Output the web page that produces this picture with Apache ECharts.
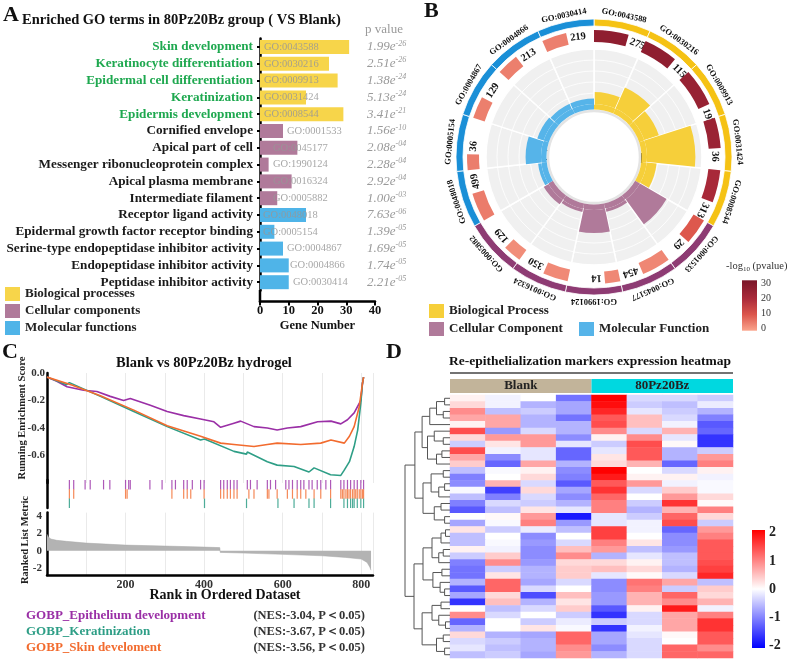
<!DOCTYPE html>
<html>
<head>
<meta charset="utf-8">
<script src="https://cdn.jsdelivr.net/npm/echarts@6/dist/echarts.min.js"></script>
<style>
html, body { margin: 0; padding: 0; background: #fff; }
#main { width: 790px; height: 659px; }
</style>
</head>
<body>
<div id="main"></div>
<script>
var myChart = echarts.init(document.getElementById('main'), null, {renderer: 'canvas'});
var SERIF = '"Liberation Serif", "Times New Roman", serif';

// ---------- A / B : GO terms ----------
var goTerms = ['Skin development', 'Keratinocyte differentiation', 'Epidermal cell differentiation', 'Keratinization',
    'Epidermis development', 'Cornified envelope', 'Apical part of cell', 'Messenger ribonucleoprotein complex',
    'Apical plasma membrane', 'Intermediate filament', 'Receptor ligand activity',
    'Epidermal growth factor receptor binding', 'Serine-type endopeptidase inhibitor activity',
    'Endopeptidase inhibitor activity', 'Peptidase inhibitor activity'];
var goIds = ['GO:0043588', 'GO:0030216', 'GO:0009913', 'GO:0031424', 'GO:0008544', 'GO:0001533', 'GO:0045177',
    'GO:1990124', 'GO:0016324', 'GO:0005882', 'GO:0048018', 'GO:0005154', 'GO:0004867', 'GO:0004866', 'GO:0030414'];
var goGroup = [0, 0, 0, 0, 0, 1, 1, 1, 1, 1, 2, 2, 2, 2, 2];
var geneNumber = [31, 24, 27, 16, 29, 8, 13, 3, 11, 6, 16, 5, 8, 10, 10];
var pMantissa = ['1.99', '2.51', '1.38', '5.13', '3.41', '1.56', '2.08', '2.28', '2.92', '1.00', '7.63', '1.39', '1.69', '1.74', '2.21'];
var pExponent = ['-26', '-26', '-24', '-24', '-21', '-10', '-04', '-04', '-04', '-03', '-06', '-05', '-05', '-05', '-05'];
var groupNamesA = ['Biological processes', 'Cellular components', 'Molecular functions'];
var groupNamesB = ['Biological Process', 'Cellular Component', 'Molecular Function'];

// circular map values
var bgCount = [275, 115, 193, 36, 313, 29, 454, 14, 350, 129, 499, 36, 129, 213, 219];
var negLogP = [25.7, 25.6, 23.9, 23.3, 20.5, 9.8, 3.7, 3.6, 3.5, 3.0, 5.1, 4.9, 4.8, 4.8, 4.7];
var richFactor = [0.11, 0.21, 0.14, 0.44, 0.09, 0.28, 0.03, 0.21, 0.03, 0.05, 0.03, 0.14, 0.06, 0.05, 0.05];
var bgBarLen = [0.66, 0.65, 0.72, 0.58, 0.62, 0.5, 0.55, 0.29, 0.48, 0.35, 0.55, 0.3, 0.42, 0.42, 0.47];
var pvalTicks = [0, 10, 20, 30];

// ---------- C : GSEA ----------
var gseaNames = ['GOBP_Epithelium development', 'GOBP_Keratinization', 'GOBP_Skin develoment'];
var gseaNes = ['(NES:-3.04, P\uFF1C0.05)', '(NES:-3.67, P\uFF1C0.05)', '(NES:-3.56, P\uFF1C0.05)'];
var esEpithelium = [[0, -0.03], [25, -0.06], [51, -0.10], [93, -0.125], [127, -0.135], [161, -0.17], [195, -0.20],
    [212, -0.185], [263, -0.235], [306, -0.28], [348, -0.31], [391, -0.335], [425, -0.355], [442, -0.395],
    [476, -0.365], [493, -0.35], [527, -0.39], [561, -0.40], [586, -0.415], [612, -0.40], [646, -0.39],
    [689, -0.355], [723, -0.35], [748, -0.37], [765, -0.34], [782, -0.29], [799, -0.20], [803, -0.08], [806, -0.03]];
var esKeratinization = [[0, -0.03], [50, -0.085], [57, -0.07], [136, -0.17], [221, -0.28], [306, -0.39],
    [391, -0.487], [401, -0.48], [476, -0.57], [508, -0.59], [510, -0.575], [561, -0.645], [586, -0.67],
    [629, -0.68], [667, -0.72], [680, -0.69], [722, -0.74], [748, -0.745], [756, -0.71], [770, -0.645],
    [782, -0.535], [791, -0.415], [799, -0.22], [803, -0.08], [806, -0.03]];
var esSkin = [[0, -0.03], [63, -0.087], [136, -0.165], [221, -0.27], [306, -0.383], [391, -0.46], [442, -0.51],
    [476, -0.52], [527, -0.535], [561, -0.52], [586, -0.51], [646, -0.52], [697, -0.51], [723, -0.487],
    [757, -0.51], [770, -0.46], [782, -0.39], [795, -0.245], [803, -0.08], [806, -0.03]];
var hitsEpithelium = [57, 68, 97, 110, 144, 160, 200, 208, 212, 262, 293, 318, 327, 348, 357, 370, 391, 400, 442,
    450, 459, 467, 476, 484, 510, 518, 535, 561, 569, 582, 608, 616, 625, 637, 646, 654, 667, 675, 688, 697, 710,
    722, 748, 756, 765, 773, 782, 790, 799, 806];
var hitsKeratinization = [57, 401, 508, 588, 629, 667, 680, 722, 756, 765, 773, 778, 782, 790, 799, 806];
var hitsSkin = [57, 68, 200, 204, 318, 348, 357, 366, 400, 442, 450, 459, 467, 476, 484, 514, 527, 561, 565, 586,
    612, 625, 637, 646, 659, 680, 697, 722, 748, 752, 756, 761, 765, 769, 773, 778, 782, 786, 790, 795, 799, 803, 806];
var rankedMetric = [[0, 1.9], [3, 1.6], [10, 1.35], [25, 1.2], [50, 1.08], [100, 0.88], [200, 0.65], [300, 0.54],
    [400, 0.42], [440, 0.36], [441, -0.19], [500, -0.27], [600, -0.42], [700, -0.58], [760, -0.77], [800, -0.96],
    [815, -1.35], [822, -1.9], [825, -2.25]];

// ---------- D : heatmap ----------
var heatGroups = ['Blank', '80Pz20Bz'];
var heatSamples = ['B1', 'B2', 'B3', 'B4', 'P1', 'P2', 'P3', 'P4'];
var heatRows = [
    [0.1, -0.1, 0, -1.1, 2.0, -0.3, -0.3, -0.4],
    [0.3, -0.1, -0.6, -0.7, 1.9, -0.4, -0.5, -0.15],
    [0.9, -0.5, -0.4, -0.7, 1.7, -0.2, -0.4, -0.6],
    [0.7, 0.7, -0.6, -1.1, 1.3, 0.5, -0.3, -1.0],
    [0.1, 0.7, -0.6, -0.6, 1.4, 0.5, -0.1, -1.3],
    [1.4, -0.8, -0.3, -0.6, 0.9, -0.3, 0.6, -1.2],
    [0.3, 0.8, 0.8, -0.9, 0.1, 0.9, -0.2, -1.6],
    [-0.4, 0.2, 0.8, -0.2, -0.4, 1.4, 0.05, -1.6],
    [1.4, -0.1, -0.2, -1.2, -0.2, 1.3, -0.6, -0.4],
    [0.7, -0.9, -0.2, -1.2, 0.2, 1.3, -0.6, 0.8],
    [0.4, -1.2, 0.7, -0.6, 0.3, 0.6, -1.2, 1.0],
    [-0.5, -0.05, 0.1, -0.9, 2.0, 0, -0.3, 0.1],
    [-1.0, 0, 0.3, -1.0, 1.8, 0.1, 0.1, -0.1],
    [-0.9, 0.6, -0.3, -1.3, 1.3, 0.8, -0.1, -0.05],
    [-0.05, -1.5, 0.3, -0.7, 1.6, -0.3, 0.4, -0.05],
    [-0.5, -1.0, -0.3, -0.9, 1.2, 0, 0.8, 0.3],
    [-1.0, -0.3, -0.4, -0.6, 1.0, -0.4, 1.6, 0.05],
    [-1.3, -0.5, 0.2, -0.2, 1.0, -0.6, 0.6, 1.0],
    [0, 0.05, 0.8, -1.8, -0.2, -0.4, 1.2, 0.3],
    [-0.7, -0.05, 1.0, -0.8, -0.2, -0.1, 1.4, -0.4],
    [0.2, -0.4, -0.15, -0.5, 1.5, -0.1, -1.2, 0.8],
    [-0.5, 0, -0.9, 0, 1.5, 0, -0.9, 1.0],
    [-0.5, -0.05, -0.8, -0.3, 1.0, 0.2, -0.9, 1.3],
    [0.1, -0.1, -0.9, 0.5, 0.8, -0.5, -0.8, 1.3],
    [-0.4, 0.4, -0.9, 0.9, -0.6, -0.2, -0.5, 1.3],
    [-1.0, 0.9, -0.8, 0.3, 0.3, 0.1, -0.5, 1.4],
    [-1.1, -0.4, -0.6, 0.4, 0.5, 0.3, -0.6, 1.5],
    [-1.1, 0.2, -0.6, 0.4, -0.2, 0.05, -0.3, 1.7],
    [-0.6, 1.2, -0.7, -0.3, -0.9, 1.1, 0.7, -0.5],
    [-1.3, 1.2, -0.3, 0, -0.9, 1.0, -0.4, 0.4],
    [-0.7, 0.3, -1.4, 0.5, -0.8, 0.6, 1.2, 0.3],
    [-1.6, 0.5, -0.6, 0.2, -0.8, 0.6, 0.9, 0.6],
    [0, -0.5, -0.3, 0.4, -1.3, 0.1, 1.8, -0.1],
    [0.9, -0.3, 0, -0.4, -1.6, -0.3, 0.7, 1.0],
    [-1.2, 0, -0.4, -0.15, -0.4, -0.3, 0.7, 1.6],
    [-0.6, 0, 0.2, -0.05, -1.6, -0.1, 0.7, 1.6],
    [0.3, -0.6, -0.7, 1.2, -0.7, -0.2, 0.05, 1.3],
    [-0.3, -0.4, -0.6, 1.2, -0.7, -0.3, 0, 1.3],
    [-0.2, -0.5, -0.6, 0.9, -0.9, -0.3, 1.2, 0.9],
    [-0.5, -0.4, -0.7, 0.8, -0.6, -0.3, 1.2, 1.2]
];
// row clustering: [left, right, height]
var dendro = [
    [[[[[0, 1, 0.12], [2, 3, 0.15], 0.3], 4, 0.45], [[5, [6, 7, 0.15], 0.35], [[8, 9, 0.18], 10, 0.3], 0.5], 0.62],
     [[[11, 12, 0.15], [[13, 14, 0.12], 15, 0.25], 0.42], [[16, 17, 0.2], [18, 19, 0.12], 0.35], 0.6], 0.78],
    [[[[[20, 21, 0.1], 22, 0.2], [[23, 24, 0.15], 25, 0.25], 0.4], [[26, 27, 0.18], [28, [29, 30, 0.12], 0.22], 0.38], 0.6],
     [[[31, 32, 0.2], [33, [34, 35, 0.1], 0.25], 0.4], [[36, 37, 0.15], [38, 39, 0.12], 0.3], 0.62], 0.8],
    1.0];
var heatTicks = [-2, -1, 0, 1, 2];

// ---------- colours ----------
var barColorA = ['#F7D54A', '#B07A9A', '#4FB4E8'];
var ringOuter = ['#F5C214', '#8E3B73', '#1A8FD7'];
var ringInner = ['#F6CF3A', '#B07A9A', '#56B4E9'];
var pColors = ['#FAA48C', '#DC564C', '#AA2A3A', '#7A1528'];
var gseaColors = ['#9A2FA6', '#2E9E86', '#F26B2E'];
var goLabelDx = [4, 4, 4, 4, 4, 27, 13, 13, 13, 13, 3, 3, 27, 30, 33];

function barSeriesA(g) {
    return {
        name: groupNamesA[g],
        type: 'bar',
        xAxisIndex: 0, yAxisIndex: 0,
        barWidth: 14,
        barGap: '-100%',
        itemStyle: {color: barColorA[g]},
        label: {
            show: true, align: 'left', verticalAlign: 'middle',
            color: 'rgba(150,150,150,0.85)', fontFamily: SERIF, fontSize: 10.5,
            formatter: function (p) { return goIds[p.dataIndex]; }
        },
        data: geneNumber.map(function (v, i) {
            if (goGroup[i] !== g) return '-';
            return {value: v, label: {position: [goLabelDx[i], '50%']}};
        })
    };
}

// polar helpers for the circular map
function polarHelper(params, api) {
    var cx = params.coordSys.cx, cy = params.coordSys.cy;
    return {
        cx: cx, cy: cy,
        ang: function (a) { var p = api.coord([100, a]); return Math.atan2(p[1] - cy, p[0] - cx); },
        rad: function (r) { var p = api.coord([r, 0]); return Math.sqrt((p[0] - cx) * (p[0] - cx) + (p[1] - cy) * (p[1] - cy)); },
        pt: function (r, a) { return api.coord([r, a]); }
    };
}
function sector(h, r0, r1, a0, a1, style) {
    var s = h.ang(a0), e = h.ang(a1);
    while (e <= s) e += Math.PI * 2;
    return {type: 'sector', shape: {cx: h.cx, cy: h.cy, r0: h.rad(r0), r: h.rad(r1), startAngle: s, endAngle: e, clockwise: true}, style: style};
}
function arcLine(h, r, a0, a1) {
    var s = h.ang(a0), e = h.ang(a1);
    while (e <= s) e += Math.PI * 2;
    return {type: 'arc', shape: {cx: h.cx, cy: h.cy, r: h.rad(r), startAngle: s, endAngle: e, clockwise: true}, style: {stroke: '#ffffff', lineWidth: 0.8, fill: null}};
}
function tangentText(h, r, a, text, font) {
    var p = h.pt(r, a), th = h.ang(a) + Math.PI / 2;
    return {type: 'text', x: p[0], y: p[1], rotation: -th,
        style: {text: text, font: font, fill: '#111', align: 'center', verticalAlign: 'middle', textAlign: 'center', textVerticalAlign: 'middle'}};
}

function renderGoSector(params, api) {
    var h = polarHelper(params, api);
    var rf = api.value(0), i = api.value(1), g = goGroup[i];
    var kids = [];
    if (i === 0) {
        kids.push({type: 'circle', shape: {cx: h.cx, cy: h.cy, r: h.rad(46)}, style: {fill: '#fff', stroke: '#E4E4E4', lineWidth: 2.5}});
    }
    kids.push(sector(h, 53, 108, i, i + 1, {fill: '#F0F0F0', stroke: '#ffffff', lineWidth: 1.5}));
    [64, 75, 86, 97].forEach(function (r) { kids.push(arcLine(h, r, i, i + 1)); });
    kids.push(sector(h, 53, 53 + rf * 110, i, i + 1, {fill: ringInner[g]}));
    kids.push(sector(h, 47.5, 53, i, i + 1, {fill: ringInner[g]}));
    kids.push(sector(h, 131, 138, i, i + 1, {fill: ringOuter[g], stroke: '#ffffff', lineWidth: 0.8}));
    kids.push(tangentText(h, 144.5, i + 0.5, goIds[i], 'bold 8.5px ' + SERIF));
    return {type: 'group', children: kids};
}

function renderBgBar(params, api) {
    var h = polarHelper(params, api);
    var i = api.value(1), f = api.value(3);
    var txt = String(bgCount[i]);
    var w = txt.length * 5.6;
    var off = (w / 2 + 2.5) / 121 * (180 / Math.PI) / 24;
    return {type: 'group', children: [
        sector(h, 115, 127, i, i + f, {fill: api.visual('color')}),
        tangentText(h, 121, i + f + off, txt, 'bold 10.5px ' + SERIF)
    ]};
}

function colorBar(lo, hi, stops) {
    return function (params, api) {
        var p0 = api.coord([0, hi]), p1 = api.coord([1, lo]);
        return {type: 'rect', shape: {x: p0[0], y: p0[1], width: p1[0] - p0[0], height: p1[1] - p0[1]},
            style: {fill: new echarts.graphic.LinearGradient(0, 0, 0, 1, stops)}};
    };
}

// dendrogram segments
var dendroLines = [];
function walk(node) {
    if (typeof node === 'number') return {y: node + 0.5, h: 0};
    var a = walk(node[0]), b = walk(node[1]), hh = node[2];
    dendroLines.push({coords: [[a.h, a.y], [hh, a.y], [hh, b.y], [b.h, b.y]]});
    return {y: (a.y + b.y) / 2, h: hh};
}
walk(dendro);

var heatData = [];
heatRows.forEach(function (row, r) {
    row.forEach(function (v, c) { heatData.push([c, r, v]); });
});

function rug(hits, row) { return hits.map(function (r) { return [r, row]; }); }

var blackLine = {show: true, onZero: false, lineStyle: {color: '#000', width: 2.5}};
var noGrid = {show: false};
var hidden = {show: false};

option = {
    animation: false,
    backgroundColor: '#ffffff',
    textStyle: {fontFamily: SERIF},
    legend: [
        {data: groupNamesA, orient: 'vertical', left: 5, top: 287, padding: 0, itemWidth: 15, itemHeight: 14, itemGap: 3,
            icon: 'rect', selectedMode: false, textStyle: {fontFamily: SERIF, fontWeight: 'bold', fontSize: 13, color: '#222'}},
        {data: [groupNamesB[0], groupNamesB[1]], orient: 'vertical', left: 429, top: 304, padding: 0, itemWidth: 15, itemHeight: 14, itemGap: 4,
            icon: 'rect', selectedMode: false, textStyle: {fontFamily: SERIF, fontWeight: 'bold', fontSize: 13, color: '#222'}},
        {data: [groupNamesB[2]], orient: 'vertical', left: 579, top: 322, padding: 0, itemWidth: 15, itemHeight: 14,
            icon: 'rect', selectedMode: false, textStyle: {fontFamily: SERIF, fontWeight: 'bold', fontSize: 13, color: '#222'}}
    ],
    grid: [
        {left: 260, top: 38.6, width: 115, height: 252, outerBoundsMode: 'none'},   // 0 A
        {left: 47, top: 373, width: 326, height: 110, outerBoundsMode: 'none'},     // 1 C ES
        {left: 47, top: 480, width: 326, height: 28, outerBoundsMode: 'none'},      // 2 C rug
        {left: 47, top: 512.6, width: 326, height: 62.4, outerBoundsMode: 'none'},  // 3 C metric
        {left: 450, top: 379, width: 283, height: 14, outerBoundsMode: 'none'},     // 4 D header
        {left: 450, top: 395, width: 283, height: 263, outerBoundsMode: 'none'},    // 5 D heatmap
        {left: 405, top: 395, width: 45, height: 263, outerBoundsMode: 'none'},     // 6 D dendrogram
        {left: 742, top: 280, width: 15, height: 51, outerBoundsMode: 'none'},      // 7 B colour bar
        {left: 752, top: 530, width: 13, height: 118, outerBoundsMode: 'none'}      // 8 D colour bar
    ],
    xAxis: [
        {gridIndex: 0, type: 'value', min: 0, max: 40, interval: 10, offset: 11,
            axisLine: blackLine, axisTick: {show: true, length: 4, lineStyle: {color: '#000', width: 2}},
            axisLabel: {fontFamily: SERIF, fontWeight: 'bold', fontSize: 12.5, color: '#111', margin: 3},
            splitLine: noGrid, name: 'Gene Number', nameLocation: 'middle', nameGap: 18,
            nameTextStyle: {fontFamily: SERIF, fontWeight: 'bold', fontSize: 12.5, color: '#111'}},
        {gridIndex: 1, type: 'value', min: 0, max: 830, interval: 100, axisLine: hidden, axisTick: hidden, axisLabel: hidden,
            splitLine: {show: true, lineStyle: {color: '#EAEAEA', width: 1}}},
        {gridIndex: 2, type: 'value', min: 0, max: 830, show: false},
        {gridIndex: 3, type: 'value', min: 0, max: 830, interval: 100, axisLine: blackLine, axisTick: hidden,
            axisLabel: {fontFamily: SERIF, fontWeight: 'bold', fontSize: 12, color: '#333', margin: 4,
                formatter: function (v) { return (v > 0 && v % 200 === 0) ? String(v) : ''; }},
            splitLine: {show: true, lineStyle: {color: '#EAEAEA', width: 1}}},
        {gridIndex: 4, type: 'category', data: heatGroups, show: false},
        {gridIndex: 5, type: 'category', data: heatSamples, show: false},
        {gridIndex: 6, type: 'value', min: 0, max: 1, inverse: true, show: false},
        {gridIndex: 7, type: 'value', min: 0, max: 1, show: false},
        {gridIndex: 8, type: 'value', min: 0, max: 1, show: false}
    ],
    yAxis: [
        {gridIndex: 0, type: 'category', data: goTerms, inverse: true, axisLine: blackLine,
            axisTick: {show: true, length: 3, alignWithLabel: true, lineStyle: {color: '#000', width: 2}},
            axisLabel: {interval: 0, fontFamily: SERIF, fontWeight: 'bold', fontSize: 13.2, margin: 7,
                color: function (v, idx) { return idx < 5 ? '#1EA84F' : '#1a1a1a'; }}},
        {gridIndex: 0, type: 'category', data: goTerms, inverse: true, position: 'right',
            axisLine: hidden, axisTick: hidden,
            axisLabel: {interval: 0, margin: -8, align: 'left',
                formatter: function (v, idx) { return '{m|' + pMantissa[idx] + 'e}{s|' + pExponent[idx] + '}'; },
                rich: {
                    m: {fontFamily: SERIF, fontStyle: 'italic', fontSize: 13, color: '#9A9A9A'},
                    s: {fontFamily: SERIF, fontStyle: 'italic', fontSize: 8, color: '#9A9A9A', padding: [0, 0, 7, 0]}
                }}},
        {gridIndex: 1, type: 'value', min: -0.8, max: 0, interval: 0.2, axisLine: blackLine, axisTick: hidden, splitLine: noGrid,
            axisLabel: {fontFamily: SERIF, fontWeight: 'bold', fontSize: 11, color: '#333', margin: 2, showMinLabel: false,
                formatter: function (v) { return v.toFixed(1); }}},
        {gridIndex: 2, type: 'value', min: 0, max: 3, inverse: true, axisLine: blackLine, axisTick: hidden, axisLabel: hidden, splitLine: noGrid},
        {gridIndex: 3, type: 'value', min: -2.8, max: 4.4, splitNumber: 4, axisLine: blackLine, axisTick: hidden, splitLine: noGrid,
            axisLabel: {fontFamily: SERIF, fontWeight: 'bold', fontSize: 11, color: '#333', margin: 5, showMinLabel: false, showMaxLabel: false}},
        {gridIndex: 4, type: 'value', min: 0, max: 1, show: false},
        {gridIndex: 5, type: 'category', data: heatRows.map(function (r, i) { return 'g' + i; }), inverse: true, show: false},
        {gridIndex: 6, type: 'value', min: 0, max: 40, inverse: true, show: false},
        {gridIndex: 7, type: 'value', min: -2, max: 32, splitNumber: 3, position: 'right', axisLine: hidden, axisTick: hidden, splitLine: noGrid,
            axisLabel: {fontFamily: SERIF, fontSize: 10, color: '#333', margin: 4, showMinLabel: false, showMaxLabel: false,
                formatter: function (v) { return pvalTicks.indexOf(v) >= 0 ? String(v) : ''; }}},
        {gridIndex: 8, type: 'value', min: -2.1, max: 2.1, splitNumber: 4, position: 'right', axisLine: hidden, axisTick: hidden, splitLine: noGrid,
            axisLabel: {fontFamily: SERIF, fontWeight: 'bold', fontSize: 14, color: '#222', margin: 4, showMinLabel: false, showMaxLabel: false,
                formatter: function (v) { return heatTicks.indexOf(v) >= 0 ? String(v) : ''; }}}
    ],
    polar: {center: [594, 157], radius: [0, 139]},
    angleAxis: {type: 'value', min: 0, max: 15, startAngle: 90, clockwise: true, show: false},
    radiusAxis: {type: 'value', min: 0, max: 139, show: false},
    visualMap: [
        {type: 'continuous', show: false, min: 0, max: 30, seriesIndex: 6, dimension: 2, inRange: {color: pColors}},
        {type: 'continuous', show: false, min: -2, max: 2, seriesIndex: 16, dimension: 2, inRange: {color: ['#0000FF', '#FFFFFF', '#FF0000']}}
    ],
    series: [
        barSeriesA(0), barSeriesA(1), barSeriesA(2),
        // 3-5 circular map sectors by ontology
        {name: groupNamesB[0], type: 'custom', coordinateSystem: 'polar', itemStyle: {color: ringInner[0]}, encode: {radius: 0, angle: 1},
            renderItem: renderGoSector, data: goIds.map(function (d, i) { return [richFactor[i], i]; }).filter(function (d) { return goGroup[d[1]] === 0; })},
        {name: groupNamesB[1], type: 'custom', coordinateSystem: 'polar', itemStyle: {color: ringInner[1]}, encode: {radius: 0, angle: 1},
            renderItem: renderGoSector, data: goIds.map(function (d, i) { return [richFactor[i], i]; }).filter(function (d) { return goGroup[d[1]] === 1; })},
        {name: groupNamesB[2], type: 'custom', coordinateSystem: 'polar', itemStyle: {color: ringInner[2]}, encode: {radius: 0, angle: 1},
            renderItem: renderGoSector, data: goIds.map(function (d, i) { return [richFactor[i], i]; }).filter(function (d) { return goGroup[d[1]] === 2; })},
        // 6 background gene count ring
        {name: 'count', type: 'custom', coordinateSystem: 'polar', encode: {radius: 0, angle: 1}, renderItem: renderBgBar,
            data: bgCount.map(function (c, i) { return [c, i, negLogP[i], bgBarLen[i]]; })},
        // 7 p value colour bar
        {type: 'custom', xAxisIndex: 7, yAxisIndex: 8, renderItem: colorBar(-1.8, 31.8, [
            {offset: 0, color: pColors[3]}, {offset: 0.36, color: pColors[2]}, {offset: 0.68, color: pColors[1]}, {offset: 1, color: pColors[0]}]),
            data: [[0, 0]]},
        // 8-10 running enrichment score
        {name: gseaNames[0], type: 'line', xAxisIndex: 1, yAxisIndex: 2, showSymbol: false, data: esEpithelium, lineStyle: {color: gseaColors[0], width: 1.6}, itemStyle: {color: gseaColors[0]}},
        {name: gseaNames[1], type: 'line', xAxisIndex: 1, yAxisIndex: 2, showSymbol: false, data: esKeratinization, lineStyle: {color: gseaColors[1], width: 1.6}, itemStyle: {color: gseaColors[1]}},
        {name: gseaNames[2], type: 'line', xAxisIndex: 1, yAxisIndex: 2, showSymbol: false, data: esSkin, lineStyle: {color: gseaColors[2], width: 1.6}, itemStyle: {color: gseaColors[2]}},
        // 11-13 hit rugs
        {type: 'scatter', xAxisIndex: 2, yAxisIndex: 3, symbol: 'rect', symbolSize: [1.2, 9.5], data: rug(hitsEpithelium, 0.5), itemStyle: {color: gseaColors[0], opacity: 0.8}},
        {type: 'scatter', xAxisIndex: 2, yAxisIndex: 3, symbol: 'rect', symbolSize: [1.2, 9.5], data: rug(hitsSkin, 1.5), itemStyle: {color: gseaColors[2], opacity: 0.8}},
        {type: 'scatter', xAxisIndex: 2, yAxisIndex: 3, symbol: 'rect', symbolSize: [1.2, 9.5], data: rug(hitsKeratinization, 2.5), itemStyle: {color: gseaColors[1], opacity: 0.85}},
        // 14 ranked list metric
        {type: 'line', xAxisIndex: 3, yAxisIndex: 4, showSymbol: false, data: rankedMetric,
            lineStyle: {color: '#A8A8A8', width: 0.5}, areaStyle: {color: '#B3B3B3', opacity: 1}},
        // 15 heatmap group header
        {type: 'bar', xAxisIndex: 4, yAxisIndex: 5, barCategoryGap: '0%',
            label: {show: true, position: 'inside', formatter: '{b}', fontFamily: SERIF, fontWeight: 'bold', fontSize: 13, color: '#222'},
            data: [{value: 1, itemStyle: {color: '#C2B49A'}}, {value: 1, itemStyle: {color: '#00D8E0'}}]},
        // 16 heatmap
        {type: 'heatmap', xAxisIndex: 5, yAxisIndex: 6, data: heatData},
        // 17 dendrogram
        {type: 'lines', coordinateSystem: 'cartesian2d', xAxisIndex: 6, yAxisIndex: 7, polyline: true,
            lineStyle: {color: '#555', width: 1, opacity: 1}, data: dendroLines},
        // 18 heatmap colour bar
        {type: 'custom', xAxisIndex: 8, yAxisIndex: 9, renderItem: colorBar(-2.1, 2.1, [
            {offset: 0, color: '#FF0000'}, {offset: 0.5, color: '#FFFFFF'}, {offset: 1, color: '#0000FF'}]),
            data: [[0, 0]]}
    ],
    graphic: [
        {type: 'text', x: 3, y: 15, style: {text: 'A', font: 'bold 22px ' + SERIF, fill: '#111', textVerticalAlign: 'middle'}},
        {type: 'text', x: 424, y: 11, style: {text: 'B', font: 'bold 22px ' + SERIF, fill: '#111', textVerticalAlign: 'middle'}},
        {type: 'text', x: 2, y: 352, style: {text: 'C', font: 'bold 22px ' + SERIF, fill: '#111', textVerticalAlign: 'middle'}},
        {type: 'text', x: 386, y: 352, style: {text: 'D', font: 'bold 22px ' + SERIF, fill: '#111', textVerticalAlign: 'middle'}},
        {type: 'text', x: 22, y: 20, style: {text: 'Enriched GO terms in 80Pz20Bz group ( VS Blank)', font: 'bold 14.5px ' + SERIF, fill: '#111', textVerticalAlign: 'middle'}},
        {type: 'text', x: 365, y: 30, style: {text: 'p value', font: '13px ' + SERIF, fill: '#9A9A9A', textVerticalAlign: 'middle'}},
        {type: 'line', shape: {x1: 260, y1: 290, x2: 260, y2: 302.5}, style: {stroke: '#000', lineWidth: 2.5}},
        // B centre
        {type: 'text', x: 594, y: 156, style: {text: 'GO circular map', font: 'bold 14.5px ' + SERIF, fill: '#111', textAlign: 'center', textVerticalAlign: 'middle'}},
        {type: 'polygon', shape: {points: [[558, 176], [575, 172], [575, 184], [558, 181]]}, style: {fill: '#666'}},
        {type: 'text', x: 583, y: 173, style: {text: 'Rich Factor', font: 'bold 10.5px ' + SERIF, fill: '#111', textVerticalAlign: 'middle'}},
        {type: 'text', x: 583, y: 185, style: {text: '(0-0.5)', font: 'bold 10.5px ' + SERIF, fill: '#111', textVerticalAlign: 'middle'}},
        {type: 'text', x: 726, y: 266, style: {text: '-log{sub|10} (pvalue)', font: '10.5px ' + SERIF, fill: '#333', textVerticalAlign: 'middle',
            rich: {sub: {fontSize: 7, fontFamily: SERIF, fill: '#333', padding: [7, 0, 0, 0]}}}},
        // C
        {type: 'text', x: 204, y: 363, style: {text: 'Blank vs 80Pz20Bz hydrogel', font: 'bold 14.5px ' + SERIF, fill: '#111', textAlign: 'center', textVerticalAlign: 'middle'}},
        {type: 'text', x: 22, y: 418, rotation: Math.PI / 2, style: {text: 'Running Enrichment Score', font: 'bold 10.5px ' + SERIF, fill: '#222', textAlign: 'center', textVerticalAlign: 'middle'}},
        {type: 'text', x: 25, y: 540, rotation: Math.PI / 2, style: {text: 'Ranked List Metric', font: 'bold 10.5px ' + SERIF, fill: '#222', textAlign: 'center', textVerticalAlign: 'middle'}},
        {type: 'text', x: 225, y: 595, style: {text: 'Rank in Ordered Dataset', font: 'bold 14px ' + SERIF, fill: '#111', textAlign: 'center', textVerticalAlign: 'middle'}},
        {type: 'text', x: 26, y: 616, style: {text: gseaNames[0], font: 'bold 13px ' + SERIF, fill: gseaColors[0], textVerticalAlign: 'middle'}},
        {type: 'text', x: 26, y: 632, style: {text: gseaNames[1], font: 'bold 13px ' + SERIF, fill: gseaColors[1], textVerticalAlign: 'middle'}},
        {type: 'text', x: 26, y: 648, style: {text: gseaNames[2], font: 'bold 13px ' + SERIF, fill: gseaColors[2], textVerticalAlign: 'middle'}},
        {type: 'text', x: 365, y: 616, style: {text: gseaNes[0], font: 'bold 12.5px ' + SERIF, fill: '#333', textAlign: 'right', textVerticalAlign: 'middle'}},
        {type: 'text', x: 365, y: 632, style: {text: gseaNes[1], font: 'bold 12.5px ' + SERIF, fill: '#333', textAlign: 'right', textVerticalAlign: 'middle'}},
        {type: 'text', x: 365, y: 648, style: {text: gseaNes[2], font: 'bold 12.5px ' + SERIF, fill: '#333', textAlign: 'right', textVerticalAlign: 'middle'}},
        // D
        {type: 'text', x: 590, y: 362, style: {text: 'Re-epithelialization markers expression heatmap', font: 'bold 13.5px ' + SERIF, fill: '#111', textAlign: 'center', textVerticalAlign: 'middle'}},
        {type: 'line', shape: {x1: 450, y1: 373, x2: 733, y2: 373}, style: {stroke: '#444', lineWidth: 1.5}}
    ]
};

myChart.setOption(option);
</script>
</body>
</html>
